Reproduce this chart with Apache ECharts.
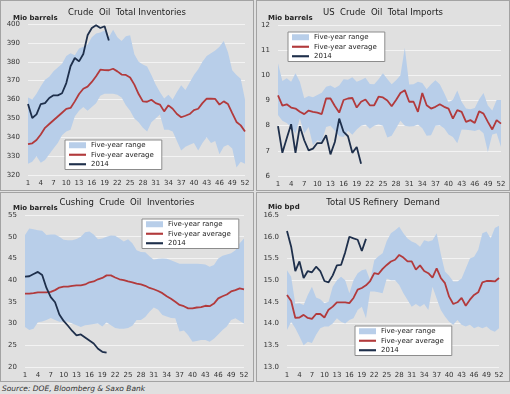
<!DOCTYPE html>
<html><head><meta charset="utf-8">
<script src="https://cdn.jsdelivr.net/npm/echarts@6/dist/echarts.min.js"></script>
<style>
html,body{margin:0;padding:0;background:#e0e0e0;width:510px;height:394px;overflow:hidden;font-family:'DejaVu Sans',sans-serif;}
.panel{position:absolute;box-sizing:border-box;border:1px solid #a3a3a3;background:#e0e0e0;}
#src{position:absolute;left:2px;top:384px;font-size:7.5px;font-style:italic;color:#333;white-space:nowrap;}
</style></head><body>
<div id="p1" class="panel" style="left:0;top:0;width:254px;height:191px"></div>
<div id="p2" class="panel" style="left:256px;top:0;width:254px;height:191px"></div>
<div id="p3" class="panel" style="left:0;top:192px;width:254px;height:190px"></div>
<div id="p4" class="panel" style="left:256px;top:192px;width:254px;height:190px"></div>
<div id="src">Source: DOE, Bloomberg &amp; Saxo Bank</div>
<script>
const weeks = ['1','2','3','4','5','6','7','8','9','10','11','12','13','14','15','16','17','18','19','20','21','22','23','24','25','26','27','28','29','30','31','32','33','34','35','36','37','38','39','40','41','42','43','44','45','46','47','48','49','50','51','52'];

// Panel 1: Crude Oil Total Inventories (Mio barrels)
const crudeLow = [326,327,330,326.5,328,331,334,337,341,343,344,351,354,356,354,356,358,362,363,363,363,362.5,361,357,354,350,348,345,343,348,350,352,344,344,343,338,333,335,336,337,333,337,340,337,338,331,335,336,334,324,327,326];
const crudeHigh = [361,360,363,367,370.5,372,375,377,379,383,384.5,383.5,387,388,389,393,395,395.5,396.5,393,397,393,391,393.5,394,384,380,378.5,377.5,373,368,364,360.5,362.5,360,364,367.5,365,369,373,376,380,383,384.5,386,388,391,385,375.5,373,371,360];
const crudeAvg = [336.4,336.8,338.5,341.5,345,347,349,351,353,355,355.5,359,362.9,365.7,366.8,369.3,372.3,375.8,375.6,375.5,376.3,374.9,373.2,373,371.7,367.9,362.9,359,358.8,359.9,358.1,357.3,353.7,356.9,355.1,352.3,350.6,351.4,352.3,354.4,355.1,358.1,360.4,360.4,360.3,357.3,359,357.6,352.8,348.1,346.3,343.1];
const crude2014 = [357.6,350.2,352.1,357.6,358.1,360.8,362.2,362.2,363.3,368.7,377.6,382,380.2,384.1,394,397.9,399.3,397.9,398.8,391.2];

// Panel 2: US Crude Oil Total Imports (Mio barrels)
const impLow = [8.42,8.2,8.11,7.95,7.69,8.28,7.69,7.95,7.22,7.42,7.35,7.95,8.0,7.8,7.58,7.55,7.8,7.64,7.85,8.0,8.05,7.88,8.0,8.06,8.0,7.53,7.6,7.9,8.2,8.0,7.97,7.98,8.05,7.9,7.6,7.62,8.0,8.02,7.9,7.65,7.55,7.3,7.85,7.84,7.82,7.79,7.85,7.7,6.95,7.65,7.7,7.15];
const impHigh = [10.48,9.77,9.88,9.75,10.08,9.75,9.09,9.18,9.13,9.22,9.31,9.55,9.6,9.5,9.6,9.84,9.82,9.92,9.75,9.81,9.9,9.66,9.65,9.84,10.08,9.85,9.65,9.8,10.0,11.1,9.64,9.65,9.75,9.7,9.45,9.65,9.8,9.65,9.3,8.92,9.03,9.4,8.95,8.68,8.65,8.7,9.05,9.3,8.8,8.6,9.02,9.02];
const impAvg = [9.2,8.8,8.85,8.72,8.68,8.55,8.46,8.6,8.55,8.52,8.46,9.08,9.08,8.78,8.52,9.02,9.08,9.1,8.72,8.95,9.04,8.81,8.81,9.15,9.12,9.0,8.77,9.02,9.3,9.41,8.95,8.95,8.55,9.3,8.81,8.68,8.75,8.85,8.75,8.68,8.28,8.62,8.55,8.15,8.22,8.11,8.57,8.48,8.15,7.85,8.22,8.08];
const imp2014 = [7.98,6.92,7.5,8.06,6.92,7.98,7.42,7.02,7.09,7.31,7.31,7.62,6.86,7.35,8.28,7.75,7.58,6.92,7.15,6.49];

// Panel 3: Cushing Crude Oil Inventories (Mio barrels)
const cushLow = [29.2,28.5,28.8,30.3,30.5,30.8,31.3,30.8,30.4,30.5,30.5,30.0,29.6,29.2,29.6,29.7,29.9,30.0,29.3,30.3,29.6,29.0,28.8,28.8,29.0,29.5,30.8,30.8,31.5,32.7,33.7,33.2,32.0,31.6,31.3,31.2,28.2,28.4,27.3,25.8,26.0,26.2,26.2,25.8,26.5,27.5,28.5,29.3,30.8,31.2,30.6,30.0];
const cushHigh = [50.4,51.9,51.7,51.5,51.4,50.4,50.5,50.5,50.0,49.3,49.2,49.2,49.5,50.0,51.0,51.2,50.5,49.4,49.6,50.0,50.3,50.2,49.6,48.9,49.4,48.5,46.9,46.5,46.4,45.5,44.7,44.9,45.0,44.9,44.6,44.2,43.8,43.8,43.8,43.8,43.8,43.7,43.6,43.1,43.5,45.0,45.6,45.9,46.2,46.9,48.5,49.6];
const cushAvg = [36.9,36.9,37.0,37.2,37.2,37.2,37.3,37.7,38.3,38.5,38.5,38.7,38.8,38.8,39.0,39.5,39.7,40.2,40.5,41.1,41.1,40.6,40.2,40.0,39.7,39.5,39.2,39.0,38.7,38.2,37.9,37.5,37.0,36.3,35.7,35.0,34.3,34.0,33.5,33.5,33.7,33.8,34.1,34.0,34.6,35.8,36.3,36.7,37.4,37.7,38.1,37.9];
const cush2014 = [40.8,40.9,41.4,41.9,41.2,38.2,36.1,34.9,32.1,30.6,29.5,28.3,27.3,27.5,26.8,26.1,25.4,24.2,23.5,23.3];

// Panel 4: Total US Refinery Demand (Mio bpd)
const refLow = [13.85,14.04,13.89,13.7,13.5,13.58,13.55,13.74,13.89,13.93,13.93,14.0,14.12,14.04,14.0,14.08,14.12,14.31,14.39,14.12,14.74,14.74,14.72,14.7,15.04,15.0,15.0,14.89,14.7,14.54,14.39,14.45,14.39,14.45,14.31,14.85,14.58,14.31,14.16,14.04,13.97,14.08,13.97,13.93,13.97,13.89,13.93,13.89,13.93,13.85,13.81,13.89];
const refHigh = [15.23,15.08,14.45,14.47,14.43,14.66,14.85,14.6,14.56,14.47,14.5,14.85,15.0,15.08,15.0,14.7,15.0,15.16,15.23,15.25,15.0,15.46,15.55,15.62,15.9,16.08,16.15,16.23,16.08,15.96,15.89,15.85,15.77,15.92,15.89,15.92,16.08,15.6,15.2,15.1,14.97,14.97,15.04,15.27,15.5,15.54,15.7,16.08,16.12,15.96,16.2,16.25];
const refAvg = [14.66,14.52,14.13,14.14,14.2,14.13,14.11,14.22,14.22,14.14,14.32,14.39,14.49,14.49,14.49,14.47,14.59,14.78,14.82,14.88,14.98,15.16,15.14,15.26,15.35,15.43,15.47,15.58,15.52,15.43,15.43,15.24,15.34,15.21,15.16,15.06,15.27,15.05,14.93,14.62,14.45,14.49,14.59,14.41,14.55,14.66,14.72,14.95,14.98,14.98,14.97,15.05];
const ref2014 = [16.13,15.77,15.21,15.43,15.05,15.21,15.18,15.31,15.21,14.98,14.95,15.11,15.34,15.35,15.64,16.0,15.96,15.93,15.67,15.95];

const BAND = '#b8cee9', RED = '#b23a3c', NAVY = '#1e2f4b', FONT = 'DejaVu Sans';
const LINE_ICON = 'path://M0,0H8V1H0Z';

function build(p) {
  const chart = echarts.init(document.getElementById(p.el));
  const diff = p.high.map((h, i) => h - p.low[i]);
  chart.setOption({
    animation: false,
    textStyle: { fontFamily: FONT },
    title: [
      { text: p.title, left: 'center', top: p.titleTop, textStyle: { fontSize: 8.5, fontWeight: 'normal', color: '#222', fontFamily: FONT } },
      { text: p.unit, left: p.unitLeft, top: p.unitTop, textStyle: { fontSize: 7, fontWeight: 'bold', color: '#222', fontFamily: FONT } }
    ],
    legend: {
      orient: 'vertical', left: p.legLeft, top: p.legTop,
      backgroundColor: '#ffffff', borderColor: '#8c8c8c', borderWidth: 1, borderRadius: 0,
      padding: [1, 8, 1, 4], itemWidth: 17, itemHeight: 6, itemGap: 1,
      symbolKeepAspect: true,
      textStyle: { fontSize: 7, color: '#222', lineHeight: 8.5, fontFamily: FONT },
      data: [
        { name: 'Five-year range', icon: 'rect' },
        { name: 'Five-year average', icon: LINE_ICON },
        { name: '2014', icon: LINE_ICON }
      ]
    },
    grid: p.grid,
    xAxis: {
      type: 'category', data: weeks, boundaryGap: false,
      axisLine: { show: false }, axisTick: { show: false },
      axisLabel: { interval: 2, fontSize: 7, color: '#333', margin: 5, fontFamily: FONT },
      splitLine: { show: false }
    },
    yAxis: {
      type: 'value', min: p.min, max: p.max, interval: p.interval,
      axisLine: { show: false }, axisTick: { show: false },
      axisLabel: { fontSize: 7, color: '#333', margin: 8, fontFamily: FONT, formatter: p.fmt },
      splitLine: { lineStyle: { color: '#f3f3f3', width: 1 } }
    },
    series: [
      { name: 'base', type: 'line', stack: 'band', data: p.low, symbol: 'none', silent: true,
        lineStyle: { width: 0, opacity: 0 } },
      { name: 'Five-year range', type: 'line', stack: 'band', data: diff, symbol: 'none', silent: true,
        lineStyle: { width: 0, opacity: 0 }, itemStyle: { color: BAND },
        areaStyle: { color: BAND, opacity: 1 } },
      { name: 'Five-year average', type: 'line', data: p.avg, symbol: 'none',
        lineStyle: { color: RED, width: 1.8 }, itemStyle: { color: RED } },
      { name: '2014', type: 'line', data: p.y14, symbol: 'none',
        lineStyle: { color: NAVY, width: 1.8 }, itemStyle: { color: NAVY } }
    ]
  });
}

build({ el: 'p1', title: 'Crude  Oil  Total Inventories', unit: 'Mio barrels', titleTop: 2, unitLeft: 7, unitTop: 9,
  min: 320, max: 400, interval: 10, fmt: '{value}', grid: { left: 27, right: 8, top: 23, bottom: 15 },
  legLeft: 64, legTop: 139, low: crudeLow, high: crudeHigh, avg: crudeAvg, y14: crude2014 });
build({ el: 'p2', title: 'US  Crude  Oil  Total Imports', unit: 'Mio barrels', titleTop: 2, unitLeft: 6, unitTop: 9,
  min: 6, max: 12, interval: 1, fmt: '{value}', grid: { left: 21, right: 8, top: 24, bottom: 14 },
  legLeft: 31, legTop: 31, low: impLow, high: impHigh, avg: impAvg, y14: imp2014 });
build({ el: 'p3', title: 'Cushing  Crude  Oil  Inventories', unit: 'Mio barrels', titleTop: 0, unitLeft: 7, unitTop: 7,
  min: 20, max: 55, interval: 5, fmt: '{value}', grid: { left: 24, right: 9, top: 22, bottom: 14 },
  legLeft: 141, legTop: 26, low: cushLow, high: cushHigh, avg: cushAvg, y14: cush2014 });
build({ el: 'p4', title: 'Total US Refinery  Demand', unit: 'Mio bpd', titleTop: 0, unitLeft: 6, unitTop: 6,
  min: 13, max: 16.5, interval: 0.5, fmt: v => v.toFixed(1), grid: { left: 30, right: 10, top: 22, bottom: 14 },
  legLeft: 98, legTop: 133, low: refLow, high: refHigh, avg: refAvg, y14: ref2014 });
</script>
</body></html>
